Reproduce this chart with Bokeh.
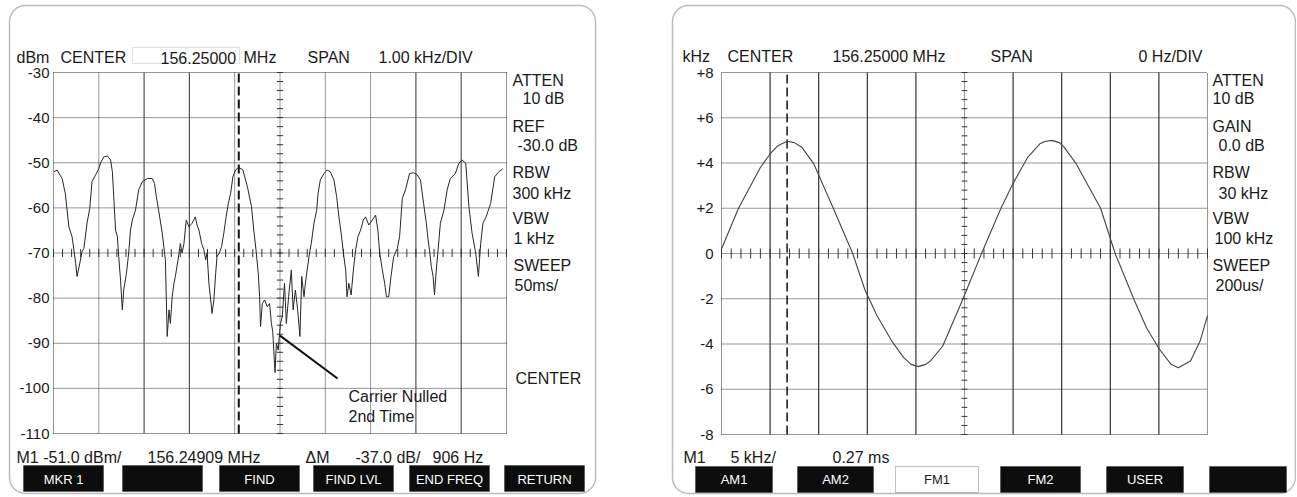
import numpy as np
from bokeh.plotting import figure
from bokeh.layouts import row
from bokeh.models import Range1d, Label, BoxAnnotation
from bokeh.core.properties import value
from bokeh.embed import file_html
from bokeh.resources import INLINE

# ---------------- data: left panel (spectrum, dBm vs kHz offset) ----------------
freq_khz = [-4.99, -4.92, -4.81, -4.74, -4.70, -4.66, -4.59, -4.55, -4.51, -4.48,
            -4.42, -4.37, -4.33, -4.26, -4.20, -4.15, -4.07, -4.00, -3.96, -3.89,
            -3.81, -3.74, -3.70, -3.67, -3.63, -3.59, -3.56, -3.52, -3.48, -3.45,
            -3.39, -3.34, -3.30, -3.26, -3.19, -3.12, -3.04, -2.93, -2.82, -2.77,
            -2.73, -2.68, -2.60, -2.53, -2.49, -2.45, -2.42, -2.38, -2.34, -2.31,
            -2.25, -2.20, -2.16, -2.12, -2.07, -2.01, -1.94, -1.87, -1.83, -1.79,
            -1.73, -1.68, -1.64, -1.61, -1.57, -1.53, -1.50, -1.46, -1.42, -1.39,
            -1.34, -1.29, -1.24, -1.19, -1.14, -1.09, -1.04, -0.98, -0.91, -0.82,
            -0.72, -0.63, -0.58, -0.53, -0.48, -0.45, -0.43, -0.39, -0.34, -0.28,
            -0.23, -0.19, -0.16, -0.11, -0.08, -0.04, 0.01, 0.05, 0.10, 0.14,
            0.19, 0.25, 0.29, 0.34, 0.39, 0.44, 0.48, 0.53, 0.56, 0.64,
            0.69, 0.75, 0.81, 0.84, 0.89, 0.97, 1.04, 1.11, 1.19, 1.25,
            1.30, 1.35, 1.41, 1.45, 1.48, 1.52, 1.57, 1.62, 1.67, 1.72,
            1.78, 1.84, 1.89, 1.96, 2.04, 2.11, 2.16, 2.20, 2.26, 2.31,
            2.35, 2.40, 2.45, 2.51, 2.59, 2.64, 2.70, 2.77, 2.86, 2.95,
            3.03, 3.10, 3.17, 3.23, 3.27, 3.30, 3.34, 3.38, 3.41, 3.45,
            3.49, 3.54, 3.62, 3.69, 3.76, 3.87, 3.95, 4.02, 4.10, 4.17,
            4.24, 4.32, 4.38, 4.43, 4.48, 4.55, 4.65, 4.74, 4.83, 4.92]
level_dbm = [-52.0, -51.6, -53.5, -56.8, -60.5, -64.2, -66.4, -69.3, -72.3, -75.2,
             -72.3, -69.7, -69.0, -63.4, -60.1, -54.2, -52.7, -51.3, -50.0, -48.7,
             -48.5, -49.4, -52.0, -57.5, -64.9, -66.4, -70.8, -76.0, -82.6, -78.2,
             -74.5, -70.0, -64.9, -62.7, -60.5, -56.0, -54.2, -53.5, -53.5, -54.6,
             -57.5, -60.5, -65.6, -71.5, -88.5, -82.6, -85.6, -79.7, -76.7, -75.2,
             -71.5, -67.9, -70.0, -67.9, -62.7, -64.2, -63.4, -62.0, -63.8, -64.9,
             -67.9, -69.3, -71.5, -70.0, -76.7, -80.4, -83.4, -80.4, -74.5, -70.8,
             -70.0, -68.6, -65.6, -62.0, -59.0, -56.8, -53.1, -51.6, -51.0, -51.6,
             -55.3, -59.7, -64.9, -69.3, -74.5, -79.7, -86.3, -81.2, -80.4, -81.9,
             -81.2, -85.6, -87.4, -96.5, -90.0, -91.5, -85.6, -84.1, -76.7, -85.6,
             -79.7, -73.8, -82.6, -78.2, -82.6, -88.5, -75.2, -79.7, -76.7, -70.8,
             -67.9, -63.4, -60.5, -56.8, -53.8, -52.4, -51.6, -52.0, -53.8, -57.5,
             -62.0, -65.6, -70.8, -73.8, -79.7, -76.7, -79.3, -73.8, -69.3, -66.4,
             -64.9, -62.7, -62.0, -63.8, -62.7, -61.6, -64.9, -70.0, -73.8, -76.7,
             -79.7, -79.7, -75.2, -70.8, -69.0, -66.4, -57.9, -56.0, -52.4, -52.2,
             -52.7, -53.8, -59.0, -63.4, -67.1, -69.3, -73.0, -75.2, -79.3, -73.8,
             -69.3, -63.4, -60.5, -56.0, -53.5, -52.4, -50.1, -49.4, -50.1, -59.7,
             -65.6, -70.0, -75.2, -67.9, -63.4, -62.0, -59.0, -53.1, -52.0, -51.3]
marker1_khz = -0.91
pointer_khz = [0.0, 1.27]
pointer_dbm = [-88.3, -97.8]
spec_y_ticks = [-30, -40, -50, -60, -70, -80, -90, -100, -110]
spec_y_labels = ["-30", "-40", "-50", "-60", "-70", "-80", "-90", "-100", "-110"]
spec_x_divs = [-5, -4, -3, -2, -1, 0, 1, 2, 3, 4, 5]

# ---------------- data: right panel (FM deviation vs time) ----------------
time_ms = [0.00, 0.07, 0.16, 0.20, 0.23, 0.27, 0.30, 0.33, 0.38, 0.46,
           0.54, 0.59, 0.64, 0.70, 0.75, 0.78, 0.81, 0.84, 0.86, 0.91,
           0.99, 1.07, 1.15, 1.20, 1.26, 1.31, 1.33, 1.36, 1.39, 1.41,
           1.46, 1.56, 1.62, 1.70, 1.75, 1.80, 1.85, 1.88, 1.93, 1.97, 2.00]
dev_khz = [0.2, 2.0, 3.8, 4.4, 4.75, 4.96, 4.9, 4.7, 3.96, 2.0,
           0.0, -1.6, -2.75, -3.86, -4.6, -4.9, -5.0, -4.9, -4.75, -4.1,
           -2.1, 0.0, 2.0, 3.1, 4.25, 4.85, 4.95, 5.0, 4.9, 4.7,
           3.96, 2.0, 0.0, -2.1, -3.3, -4.2, -4.9, -5.05, -4.75, -3.86, -2.75]
marker2_ms = 0.27
fm_y_ticks = [8, 6, 4, 2, 0, -2, -4, -6, -8]
fm_y_labels = ["+8", "+6", "+4", "+2", "0", "-2", "-4", "-6", "-8"]
fm_x_divs = [0.0, 0.2, 0.4, 0.6, 0.8, 1.0, 1.2, 1.4, 1.6, 1.8, 2.0]

left_buttons = ["MKR 1", "", "FIND", "FIND LVL", "END FREQ", "RETURN"]
right_buttons = ["AM1", "AM2", "FM1", "FM2", "USER", ""]
right_button_filled = [True, True, False, True, True, True]

FONT = "Liberation Sans"
NARROW = "'Liberation Sans Narrow', 'Liberation Sans', sans-serif"
INK = "#1a1a1a"
GRID = "#2e2e2e"
H = 496
W1, W2 = 650, 646
X0_1, X0_2 = 0, 650          # page x of each canvas

# graticule boxes in page pixels (layout only)
BOX1 = dict(left=53, right=506, top=72, bottom=433)
BOX2 = dict(left=721, right=1207, top=72, bottom=434)


def ranges(box, x0, width, xlo, xhi, ylo, yhi):
    sx = (box["right"] - box["left"]) / (xhi - xlo)
    sy = (box["bottom"] - box["top"]) / (yhi - ylo)
    xr = Range1d(xlo - (box["left"] - x0) / sx, xhi + (x0 + width - box["right"]) / sx)
    yr = Range1d(ylo - (H - box["bottom"]) / sy, yhi + box["top"] / sy)
    return xr, yr


def make_fig(width, xr, yr):
    p = figure(width=width, height=H, x_range=xr, y_range=yr,
               output_backend="svg", toolbar_location=None,
               x_axis_location=None, y_axis_location=None,
               min_border=0)
    p.background_fill_color = "white"
    p.border_fill_color = "white"
    p.outline_line_color = None
    p.xgrid.visible = False
    p.ygrid.visible = False
    return p


def graticule(p, xdivs, ydivs, dotted_x):
    xlo, xhi = min(xdivs), max(xdivs)
    ylo, yhi = min(ydivs), max(ydivs)
    p.segment(x0=xlo, y0=ydivs, x1=xhi, y1=ydivs, line_color=GRID,
              line_width=1, line_dash="1 1")
    p.segment(x0=dotted_x, y0=ylo, x1=dotted_x, y1=yhi, line_color=GRID,
              line_width=1, line_dash="1 1")


def add_text(p, x0, x, y, text, size=16, align="left", color=INK, font=FONT):
    p.add_layout(Label(x=x - x0, y=H - y, x_units="screen", y_units="screen",
                       text=text, text_align=align, text_baseline="middle",
                       text_font=font, text_font_size=f"{size}px", text_color=color))


def add_box(p, x0, l, r, t, b, fill="black", line="black", radius=0, lw=1):
    p.add_layout(BoxAnnotation(left=l - x0, right=r - x0, top=H - t, bottom=H - b,
                               left_units="screen", right_units="screen",
                               top_units="screen", bottom_units="screen",
                               fill_color=fill if fill else "white",
                               fill_alpha=1 if fill else 0,
                               line_color=line, line_width=lw,
                               border_radius=radius, level="underlay"))


# ======================= LEFT PANEL =======================
xr1, yr1 = ranges(BOX1, X0_1, W1, -5, 5, -110, -30)
p1 = make_fig(W1, xr1, yr1)

add_box(p1, X0_1, 9, 595, 5, 493, fill=None, line="#222222", radius=16, lw=1.5)

solid1 = [-3, -2, 3, 4]
graticule(p1, spec_x_divs, spec_y_ticks, [v for v in spec_x_divs if v not in solid1])
p1.segment(x0=solid1, y0=-110, x1=solid1, y1=-30, line_color="#555555", line_width=1.2)

# y tick labels
p1.text(x=[spec_x_divs[0]] * len(spec_y_ticks), y=spec_y_ticks, text=spec_y_labels,
        x_offset=-4, text_align="right", text_baseline="middle",
        text_font=value(FONT), text_font_size="15px", text_color=INK)

# centre graticule ticks
gx = np.arange(-5, 5.001, 0.2)
p1.segment(x0=gx, y0=-70.9, x1=gx, y1=-69.1, line_color="#333333", line_width=1)
gy = np.arange(-110, -29.9, 2.0)
p1.segment(x0=-0.07, y0=gy, x1=0.07, y1=gy, line_color="#333333", line_width=1)

# marker
p1.segment(x0=[marker1_khz], y0=[-110], x1=[marker1_khz], y1=[-30],
           line_color="#111111", line_width=2, line_dash="9 4")

# trace
p1.line(freq_khz, level_dbm, line_color="#262626", line_width=1.0)

# pointer annotation
p1.segment(x0=[pointer_khz[0]], y0=[pointer_dbm[0]], x1=[pointer_khz[1]], y1=[pointer_dbm[1]],
           line_color="#111111", line_width=2)

# header
add_box(p1, X0_1, 132, 239, 47, 63, fill=None, line="#9a9a9a", lw=1)
add_text(p1, X0_1, 16, 57, "dBm")
add_text(p1, X0_1, 60, 57, "CENTER")
add_text(p1, X0_1, 160, 57, "156.25000")
add_text(p1, X0_1, 243, 57, "MHz")
add_text(p1, X0_1, 307, 57, "SPAN")
add_text(p1, X0_1, 378, 57, "1.00 kHz/DIV")

for x, y, t in [(512, 80, "ATTEN"), (522, 98, "10  dB"), (512, 126, "REF"),
                (517, 145, "-30.0  dB"), (512, 172, "RBW"), (512, 193, "300  kHz"),
                (512, 218, "VBW"), (513, 238, "1  kHz"), (513, 265, "SWEEP"),
                (514, 285, "50ms/"), (515, 378, "CENTER")]:
    add_text(p1, X0_1, x, y, t)

add_text(p1, X0_1, 348, 396, "Carrier Nulled")
add_text(p1, X0_1, 348, 416, "2nd Time")

add_text(p1, X0_1, 16, 457, "M1 -51.0 dBm/")
add_text(p1, X0_1, 147, 457, "156.24909 MHz")
add_text(p1, X0_1, 305, 457, "\u0394M")
add_text(p1, X0_1, 355, 457, "-37.0 dB/")
add_text(p1, X0_1, 432, 457, "906  Hz")

for l, t in zip([23, 122, 219, 313, 409, 504], left_buttons):
    add_box(p1, X0_1, l, l + 80, 465, 491, fill="#0d0d0d", line="#0d0d0d")
    if t:
        add_text(p1, X0_1, l + 40, 479, t, size=13, align="center", color="white", font=NARROW)

# ======================= RIGHT PANEL =======================
xr2, yr2 = ranges(BOX2, X0_2, W2, 0, 2, -8, 8)
p2 = make_fig(W2, xr2, yr2)

add_box(p2, X0_2, 672, 1295, 5, 493, fill=None, line="#222222", radius=16, lw=1.5)

solid2 = [v for v in fm_x_divs[1:-1] if v != 1.0]
graticule(p2, fm_x_divs, fm_y_ticks, [v for v in fm_x_divs if v not in solid2])
p2.segment(x0=solid2, y0=-8, x1=solid2, y1=8, line_color="#222222", line_width=1.1)

p2.text(x=[fm_x_divs[0]] * len(fm_y_ticks), y=fm_y_ticks, text=fm_y_labels,
        x_offset=-8, text_align="right", text_baseline="middle",
        text_font=value(FONT), text_font_size="15px", text_color=INK)

tx = np.arange(0, 2.0001, 0.04)
p2.segment(x0=tx, y0=-0.22, x1=tx, y1=0.22, line_color="#333333", line_width=1)
ty = np.arange(-8, 8.001, 0.4)
p2.segment(x0=0.988, y0=ty, x1=1.012, y1=ty, line_color="#333333", line_width=1)

p2.segment(x0=[marker2_ms], y0=[-8], x1=[marker2_ms], y1=[8],
           line_color="#111111", line_width=1.5, line_dash="9 4")

p2.line(time_ms, dev_khz, line_color="#444444", line_width=1.1)

add_text(p2, X0_2, 682, 56, "kHz")
add_text(p2, X0_2, 727, 56, "CENTER")
add_text(p2, X0_2, 832, 56, "156.25000 MHz")
add_text(p2, X0_2, 990, 56, "SPAN")
add_text(p2, X0_2, 1138, 56, "0 Hz/DIV")

for x, y, t in [(1212, 80, "ATTEN"), (1212, 98, "10  dB"), (1212, 126, "GAIN"),
                (1218, 145, "0.0 dB"), (1212, 172, "RBW"), (1218, 193, "30  kHz"),
                (1212, 218, "VBW"), (1214, 238, "100  kHz"), (1212, 265, "SWEEP"),
                (1215, 285, "200us/")]:
    add_text(p2, X0_2, x, y, t)

add_text(p2, X0_2, 683, 457, "M1")
add_text(p2, X0_2, 730, 457, "5 kHz/")
add_text(p2, X0_2, 832, 457, "0.27 ms")

for (l, r), t, filled in zip([(695, 772), (797, 873), (895, 978), (1000, 1080), (1106, 1183), (1209, 1286)],
                             right_buttons, right_button_filled):
    if filled:
        add_box(p2, X0_2, l, r, 466, 492, fill="#0d0d0d", line="#0d0d0d")
        col = "white"
    else:
        add_box(p2, X0_2, l, r, 466, 492, fill=None, line="#333333")
        col = INK
    if t:
        add_text(p2, X0_2, (l + r) / 2, 479, t, size=13, align="center", color=col, font=NARROW)

layout = row(p1, p2)
open("out.html", "w").write(file_html(layout, INLINE))
